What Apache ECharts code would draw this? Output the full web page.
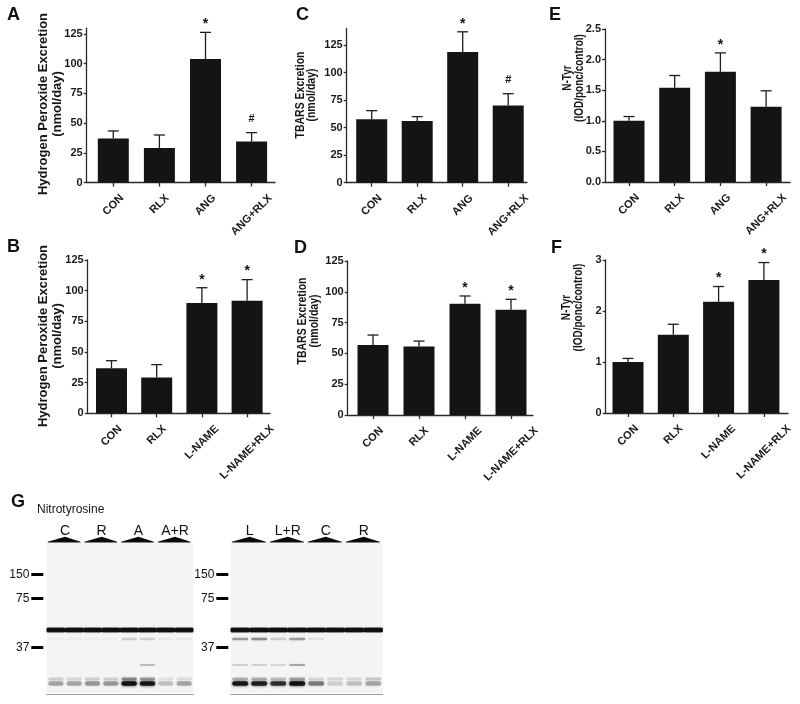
<!DOCTYPE html>
<html><head><meta charset="utf-8">
<script src="https://cdn.jsdelivr.net/npm/echarts@6/dist/echarts.min.js"></script>
<style>html,body{margin:0;padding:0;background:#fff}#c{width:800px;height:704px}</style>
</head><body><div id="c"></div>
<script>
// ---------------- data ----------------
const catsAng = ['CON', 'RLX', 'ANG', 'ANG+RLX'];
const catsLname = ['CON', 'RLX', 'L-NAME', 'L-NAME+RLX'];

const h2o2AngMean = [37, 29, 104, 34.5];
const h2o2AngErr = [43.4, 40, 126.4, 42];
const h2o2AngMarks = ['', '', '*', '#'];

const tbarsAngMean = [57.5, 56, 118.6, 70.2];
const tbarsAngErr = [65.4, 60, 137, 80.8];
const tbarsAngMarks = ['', '', '*', '#'];

const ntyrAngMean = [1.0, 1.54, 1.80, 1.23];
const ntyrAngErr = [1.07, 1.74, 2.11, 1.49];
const ntyrAngMarks = ['', '', '*', ''];

const h2o2LnMean = [36.7, 29.1, 89.9, 91.8];
const h2o2LnErr = [42.9, 39.7, 102.4, 109];
const h2o2LnMarks = ['', '', '*', '*'];

const tbarsLnMean = [56.8, 55.7, 90.4, 85.5];
const tbarsLnErr = [64.9, 60, 96.6, 93.9];
const tbarsLnMarks = ['', '', '*', '*'];

const ntyrLnMean = [1.0, 1.536, 2.18, 2.61];
const ntyrLnErr = [1.07, 1.74, 2.48, 2.95];
const ntyrLnMarks = ['', '', '*', '*'];

const ticksExcretion = [0, 25, 50, 75, 100, 125];
const ticksNtyrE = [0, 0.5, 1, 1.5, 2, 2.5];
const ticksNtyrF = [0, 1, 2, 3];

// western blot (nitrotyrosine)
const blotLeftLanes = ['C', 'R', 'A', 'A+R'];
const blotRightLanes = ['L', 'L+R', 'C', 'R'];
const markerLabels = ['150', '75', '37'];
const markerMigration = [31.3, 55.3, 104.7];
const bandMigration = [87, 96, 122, 136, 140.5];
const blotLeftIntensity = [
  [0.97, 0.97, 0.97, 0.97, 0.97, 0.97, 0.97, 0.97],
  [0.03, 0.03, 0.03, 0.03, 0.15, 0.15, 0.05, 0.05],
  [0, 0, 0, 0, 0, 0.22, 0, 0],
  [0.15, 0.12, 0.15, 0.15, 0.4, 0.35, 0.08, 0.1],
  [0.3, 0.3, 0.35, 0.35, 0.95, 0.9, 0.2, 0.3]
];
const blotRightIntensity = [
  [0.97, 0.97, 0.97, 0.97, 0.97, 0.97, 0.97, 0.97],
  [0.35, 0.4, 0.15, 0.35, 0.08, 0, 0, 0],
  [0.15, 0.15, 0.12, 0.3, 0, 0, 0, 0],
  [0.25, 0.25, 0.2, 0.3, 0.12, 0.12, 0.12, 0.18],
  [0.9, 0.85, 0.75, 0.95, 0.45, 0.15, 0.2, 0.3]
];

// ---------------- layout ----------------
const FONT = '"Liberation Sans", Arial, Helvetica, sans-serif';
const INK = '#141414';
const AX = '#2a2a2a';
const LABEL_FONT = 'bold 11px ' + FONT;
const measureCtx = document.createElement('canvas').getContext('2d');
measureCtx.font = LABEL_FONT;
const textW = s => measureCtx.measureText(s).width;

const grids = [], xAxes = [], yAxes = [], series = [];

function barPanel(L, cats, mean, err, marks, yTicks, yFmt, yName) {
  const k = grids.length;
  grids.push({left: L.axisX, top: L.topY, width: L.rightX - L.axisX, height: L.zeroY - L.topY});
  const xMin = -(L.firstC - L.axisX) / L.step;
  const xMax = (L.rightX - L.firstC) / L.step;
  const idx = cats.map((c, i) => i);
  xAxes.push({
    type: 'value', gridIndex: k, min: xMin, max: xMax,
    axisLine: {show: true, onZero: false, lineStyle: {color: AX, width: 1.3}},
    axisTick: {show: true, customValues: idx, length: 4, lineStyle: {color: AX, width: 1.3}},
    axisLabel: {show: false},
    splitLine: {show: false}
  });
  yAxes.push({
    type: 'value', gridIndex: k, min: 0, max: L.yMax,
    axisLine: {show: true, onZero: false, lineStyle: {color: AX, width: 1.3}},
    axisTick: {show: true, customValues: yTicks, length: 3, lineStyle: {color: AX, width: 1.3}},
    axisLabel: {customValues: yTicks, formatter: yFmt, margin: 4,
      fontFamily: FONT, fontWeight: 'bold', fontSize: 11, color: '#1a1a1a'},
    splitLine: {show: false}
  });
  series.push({
    type: 'bar', xAxisIndex: k, yAxisIndex: k, barWidth: 31, silent: true,
    data: mean.map((v, i) => [i, v]), itemStyle: {color: INK}
  });
  series.push({
    type: 'custom', xAxisIndex: k, yAxisIndex: k, clip: false, z: 5, silent: true,
    data: mean.map((v, i) => [i, v, err[i]]),
    encode: {x: 0, y: 2},
    renderItem: function (params, api) {
      const i = api.value(0);
      const pm = api.coord([i, api.value(1)]);
      const pe = api.coord([i, api.value(2)]);
      const cap = 5.5;
      const st = {stroke: '#1e1e1e', lineWidth: 1.3};
      const ch = [
        {type: 'line', shape: {x1: pm[0], y1: pm[1], x2: pe[0], y2: pe[1]}, style: st},
        {type: 'line', shape: {x1: pe[0] - cap, y1: pe[1], x2: pe[0] + cap, y2: pe[1]}, style: st}
      ];
      const m = marks[params.dataIndex];
      if (m) {
        const isStar = m === '*';
        ch.push({type: 'text', style: {
          text: m, x: pe[0], y: pe[1] - (isStar ? 1 : 8),
          align: 'center', verticalAlign: 'bottom',
          font: 'bold ' + (isStar ? 14 : 11) + 'px ' + FONT, fill: '#151515'
        }});
      }
      return {type: 'group', children: ch};
    }
  });
  // rotated category labels, centred under each tick
  series.push({
    type: 'custom', xAxisIndex: k, yAxisIndex: k, clip: false, z: 5, silent: true,
    data: idx.map(i => [i, 0]), encode: {x: 0, y: 1},
    renderItem: function (params, api) {
      const p = api.coord([api.value(0), 0]);
      const s = cats[params.dataIndex];
      const w = textW(s);
      const cy = p[1] + 11 + 0.3536 * (w + 8);
      return {type: 'text', x: p[0], y: cy, rotation: Math.PI / 4,
        style: {text: s, x: 0, y: 0, align: 'center', verticalAlign: 'middle', font: LABEL_FONT, fill: '#1a1a1a'}};
    }
  });
  // y-axis title (two lines, rotated, slightly widened like the source figure)
  series.push({
    type: 'custom', xAxisIndex: k, yAxisIndex: k, clip: false, z: 5, silent: true,
    data: [[xMin, 0]], encode: {x: 0, y: 1},
    renderItem: function (params, api) {
      const p = api.coord([xMin, 0]);
      return {type: 'text', x: p[0] - L.nameDist, y: L.nameCY, rotation: Math.PI / 2, scaleY: L.nameScale,
        style: {text: yName, x: 0, y: 0, align: 'center', verticalAlign: 'middle',
          font: 'bold ' + L.nameSize + 'px ' + FONT, lineHeight: L.lh / L.nameScale, fill: '#151515'}};
    }
  });
}

const intFmt = v => String(Math.round(v));
barPanel({axisX: 86.7, rightX: 275, firstC: 113.3, step: 46.1, zeroY: 182.5, topY: 28.1, yMax: 130,
  nameDist: 36.7, nameCY: 104, nameSize: 13, nameScale: 1, lh: 14},
  catsAng, h2o2AngMean, h2o2AngErr, h2o2AngMarks, ticksExcretion, intFmt, 'Hydrogen Peroxide Excretion\n(nmol/day)');
barPanel({axisX: 346.7, rightX: 527, firstC: 371.7, step: 45.5, zeroY: 182.7, topY: 28.5, yMax: 140,
  nameDist: 41, nameCY: 95, nameSize: 10.5, nameScale: 1.24, lh: 11.5},
  catsAng, tbarsAngMean, tbarsAngErr, tbarsAngMarks, ticksExcretion, intFmt, 'TBARS Excretion\n(nmol/day)');
barPanel({axisX: 605, rightX: 790, firstC: 629, step: 45.7, zeroY: 182, topY: 29, yMax: 2.5,
  nameDist: 31.5, nameCY: 78, nameSize: 10, nameScale: 1.24, lh: 11.8},
  catsAng, ntyrAngMean, ntyrAngErr, ntyrAngMarks, ticksNtyrE, v => v.toFixed(1), 'N-Tyr\n(IOD/ponc/control)');
barPanel({axisX: 87.7, rightX: 270, firstC: 111.5, step: 45.2, zeroY: 413.3, topY: 260, yMax: 125,
  nameDist: 37.7, nameCY: 336, nameSize: 13, nameScale: 1, lh: 14},
  catsLname, h2o2LnMean, h2o2LnErr, h2o2LnMarks, ticksExcretion, intFmt, 'Hydrogen Peroxide Excretion\n(nmol/day)');
barPanel({axisX: 347.7, rightX: 533, firstC: 373, step: 46, zeroY: 415, topY: 261, yMax: 125,
  nameDist: 39.5, nameCY: 321, nameSize: 10.5, nameScale: 1.24, lh: 11.5},
  catsLname, tbarsLnMean, tbarsLnErr, tbarsLnMarks, ticksExcretion, intFmt, 'TBARS Excretion\n(nmol/day)');
barPanel({axisX: 605.7, rightX: 788, firstC: 628, step: 45.3, zeroY: 413, topY: 260, yMax: 3,
  nameDist: 32.9, nameCY: 307.5, nameSize: 10, nameScale: 1.24, lh: 11.8},
  catsLname, ntyrLnMean, ntyrLnErr, ntyrLnMarks, ticksNtyrF, intFmt, 'N-Tyr\n(IOD/ponc/control)');

// ---------------- blots ----------------
function blotPanel(B, lanes, intensity) {
  const k = grids.length;
  grids.push({left: B.left, top: B.top, width: B.width, height: B.height, show: true,
    backgroundColor: '#f4f4f4', borderWidth: 0});
  const pairC = lanes.map((l, i) => 2 * i + 1);
  xAxes.push({
    type: 'value', gridIndex: k, position: 'top', min: 0, max: 8,
    axisLine: {show: false}, axisTick: {show: false}, splitLine: {show: false},
    axisLabel: {customValues: pairC, formatter: v => lanes[(Math.round(v) - 1) / 2], margin: 5,
      fontFamily: FONT, fontSize: 14, color: '#111'}
  });
  const xi = xAxes.length;
  xAxes.push({
    type: 'value', gridIndex: k, position: 'bottom', min: 0, max: 8, offset: 1,
    axisLine: {show: true, onZero: false, lineStyle: {color: '#9a9a9a', width: 1}},
    axisTick: {show: false}, axisLabel: {show: false}, splitLine: {show: false}
  });
  yAxes.push({
    type: 'value', gridIndex: k, min: 0, max: 150, inverse: true, offset: B.tickOffset,
    axisLine: {show: false, onZero: false},
    axisTick: {show: true, customValues: markerMigration, length: 12, lineStyle: {color: '#000', width: 3}},
    axisLabel: {customValues: markerMigration, margin: 14,
      formatter: v => markerLabels[markerMigration.indexOf(v)],
      fontFamily: FONT, fontSize: 12, color: '#111'},
    splitLine: {show: false}
  });
  const bandData = [];
  intensity.forEach((row, b) => row.forEach((v, lane) => {
    if (v > 0) bandData.push([lane, bandMigration[b], v, b]);
  }));
  const bandH = [4.6, 2.5, 1.8, 2.8, 4.4];
  series.push({
    type: 'custom', xAxisIndex: xi, yAxisIndex: k, silent: true, clip: false,
    data: bandData, encode: {x: 0, y: 1},
    renderItem: function (params, api) {
      const lane = api.value(0), mig = api.value(1), v = api.value(2), b = api.value(3);
      const main = b === 0;
      const p0 = api.coord([lane, mig]);
      const p1 = api.coord([lane + 1, mig]);
      const inset = main ? 0 : 1.5;
      const h = bandH[b];
      const c = 'rgba(15,15,15,' + v + ')';
      return {type: 'rect',
        shape: {x: p0[0] + inset, y: p0[1] - h / 2, width: p1[0] - p0[0] - 2 * inset, height: h, r: main ? 1 : h / 2},
        style: {fill: c, shadowBlur: main ? 1 : 3, shadowColor: c}};
    }
  });
  series.push({
    type: 'custom', xAxisIndex: xi, yAxisIndex: k, silent: true, clip: false,
    data: pairC.map(c => [c - 1, 0]), encode: {x: 0, y: 1},
    renderItem: function (params, api) {
      const s = api.value(0);
      const a = api.coord([s + 0.06, -1.3]);
      const p = api.coord([s + 1.0, -6.3]);
      const e = api.coord([s + 1.85, -1.3]);
      return {type: 'polygon', shape: {points: [[a[0], a[1]], [p[0], p[1]], [e[0], e[1]], [e[0], e[1] + 0.9], [a[0], a[1] + 0.9]]},
        style: {fill: '#0a0a0a'}};
    }
  });
}
blotPanel({left: 46.7, top: 543, width: 146.6, height: 150, tickOffset: 3.4}, blotLeftLanes, blotLeftIntensity);
blotPanel({left: 230.7, top: 543, width: 152, height: 150, tickOffset: 2.4}, blotRightLanes, blotRightIntensity);

// ---------------- titles ----------------
const letterStyle = {fontFamily: FONT, fontWeight: 'bold', fontSize: 18, color: '#111', lineHeight: 18};
const titles = [
  {text: 'A', left: 7, top: 5.7}, {text: 'C', left: 296, top: 5.7}, {text: 'E', left: 549, top: 5.7},
  {text: 'B', left: 7, top: 237.7}, {text: 'D', left: 294, top: 238.7}, {text: 'F', left: 551, top: 238.7},
  {text: 'G', left: 11, top: 492.7}
].map(t => Object.assign({padding: 0, textStyle: letterStyle}, t));
titles.push({text: 'Nitrotyrosine', left: 37, top: 503.5, padding: 0,
  textStyle: {fontFamily: FONT, fontWeight: 'normal', fontSize: 12, color: '#151515', lineHeight: 12}});

const chart = echarts.init(document.getElementById('c'), null, {renderer: 'canvas'});
chart.setOption({
  backgroundColor: '#ffffff',
  animation: false,
  title: titles,
  grid: grids,
  xAxis: xAxes,
  yAxis: yAxes,
  series: series
});
</script></body></html>
